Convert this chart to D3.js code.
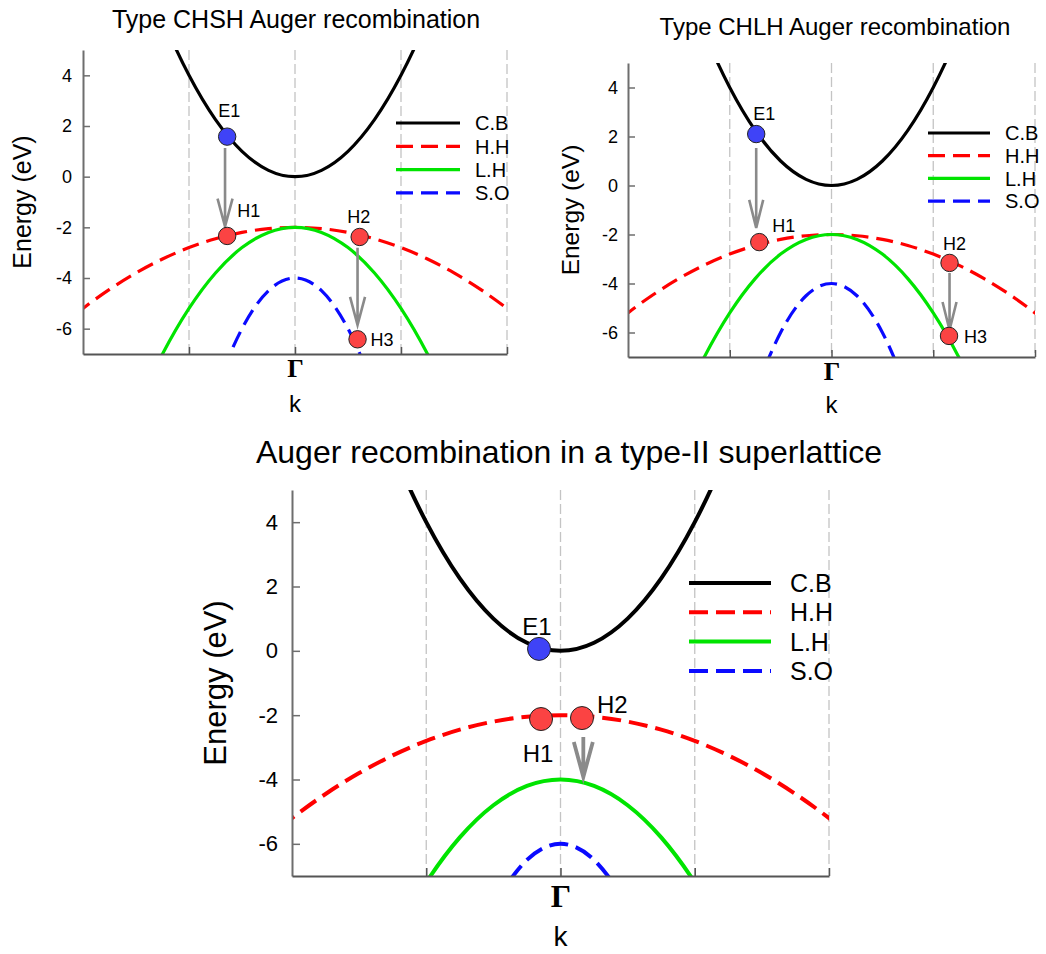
<!DOCTYPE html>
<html>
<head>
<meta charset="utf-8">
<script src="https://cdn.jsdelivr.net/npm/d3@7"></script>
<style>
  body { margin: 0; background: #fff; }
  svg { display: block; font-family: "Liberation Sans", Arial, sans-serif; }
</style>
</head>
<body>
<script>
// wave vector samples (Gamma at 0) and band energies (eV)
var kGrid = [-2.25, -2, -1.75, -1.5, -1.25, -1, -0.75, -0.5, -0.25, 0, 0.25, 0.5, 0.75, 1, 1.25, 1.5, 1.75, 2, 2.25];

// bulk bands (top two panels)
var cbBulk = [20.25, 16, 12.25, 9, 6.25, 4, 2.25, 1, 0.25, 0, 0.25, 1, 2.25, 4, 6.25, 9, 12.25, 16, 20.25];
var hhBulk = [-6.05, -5.2, -4.45, -3.8, -3.25, -2.8, -2.45, -2.2, -2.05, -2, -2.05, -2.2, -2.45, -2.8, -3.25, -3.8, -4.45, -5.2, -6.05];
var lhBulk = [-18.2, -14.8, -11.8, -9.2, -7, -5.2, -3.8, -2.8, -2.2, -2, -2.2, -2.8, -3.8, -5.2, -7, -9.2, -11.8, -14.8, -18.2];
var soBulk = [-44.5, -36, -28.5, -22, -16.5, -12, -8.5, -6, -4.5, -4, -4.5, -6, -8.5, -12, -16.5, -22, -28.5, -36, -44.5];

// type-II superlattice bands (bottom panel)
var cbSL = [20.25, 16, 12.25, 9, 6.25, 4, 2.25, 1, 0.25, 0, 0.25, 1, 2.25, 4, 6.25, 9, 12.25, 16, 20.25];
var hhSL = [-6.05, -5.2, -4.45, -3.8, -3.25, -2.8, -2.45, -2.2, -2.05, -2, -2.05, -2.2, -2.45, -2.8, -3.25, -3.8, -4.45, -5.2, -6.05];
var lhSL = [-20.2, -16.8, -13.8, -11.2, -9, -7.2, -5.8, -4.8, -4.2, -4, -4.2, -4.8, -5.8, -7.2, -9, -11.2, -13.8, -16.8, -20.2];
var soSL = [-46.5, -38, -30.5, -24, -18.5, -14, -10.5, -8, -6.5, -6, -6.5, -8, -10.5, -14, -18.5, -24, -30.5, -38, -46.5];

var bandNames = ["C.B", "H.H", "L.H", "S.O"];
var kDomain = [-2, 2];
var eDomain = [-7, 5];
var kTicks = [-1, 0, 1, 2];
var eTicks = [-6, -4, -2, 0, 2, 4];

// carriers
var chshNames = ["E1", "H1", "H2", "H3"];
var chshK = [-0.64, -0.64, 0.61, 0.59];
var chshE = [1.58, -2.34, -2.38, -6.42];
var chshArrowK = [-0.66, 0.59];
var chshArrowFrom = [1.13, -2.81];
var chshArrowTo = [-1.97, -5.85];

var chlhNames = ["E1", "H1", "H2", "H3"];
var chlhK = [-0.74, -0.71, 1.16, 1.155];
var chlhE = [2.1, -2.31, -3.16, -6.14];
var chlhArrowK = [-0.74, 1.16];
var chlhArrowFrom = [1.53, -3.57];
var chlhArrowTo = [-1.73, -5.9];

var slNames = ["E1", "H1", "H2"];
var slK = [-0.16, -0.145, 0.16];
var slE = [0.06, -2.12, -2.09];
var slArrowK = [0.17];
var slArrowFrom = [-2.68];
var slArrowTo = [-3.92];

var bandColors = ["#000000", "#ff0000", "#00e400", "#0a0aff"];
var bandDashed = [false, true, false, true];

var svg = d3.select("body").append("svg").attr("width", 1046).attr("height", 954);
var defs = svg.append("defs");

var panels = [
  {
    id: "chsh", title: "Type CHSH Auger recombination",
    left: 83, right: 507, top: 50, bottom: 354,
    bands: [cbBulk, hhBulk, lhBulk, soBulk],
    names: chshNames, pk: chshK, pe: chshE,
    ak: chshArrowK, af: chshArrowFrom, at: chshArrowTo,
    labelDx: [2, 10, -1, 13], labelDy: [-20, -19, -14, 7], labelAnchor: ["middle", "start", "middle", "start"],
    titleX: 296, titleY: 28, titleFont: 25,
    ylabX: 31, ylabFont: 25, tickFont: 18, tickPad: 11, tickLen: 7,
    gammaFont: 26, gammaPad: 5, kY: 412, kFont: 24,
    lw: 3.2, dash: "17,8", r: 8.7, labFont: 18,
    legX1: 396, legX2: 460, legTx: 475, legY: 123, legDy: 23.3, legFont: 20,
    arrowW: 2.6, headW: 7.5, headH: 28
  },
  {
    id: "chlh", title: "Type CHLH Auger recombination",
    left: 628, right: 1035, top: 63, bottom: 357,
    bands: [cbBulk, hhBulk, lhBulk, soBulk],
    names: chlhNames, pk: chlhK, pe: chlhE,
    ak: chlhArrowK, af: chlhArrowFrom, at: chlhArrowTo,
    labelDx: [8, 13, 5, 15], labelDy: [-14, -10, -13, 7], labelAnchor: ["middle", "start", "middle", "start"],
    titleX: 835, titleY: 35, titleFont: 24,
    ylabX: 579, ylabFont: 24.5, tickFont: 18, tickPad: 10, tickLen: 7,
    gammaFont: 26, gammaPad: 5, kY: 413, kFont: 24,
    lw: 3.2, dash: "17,8", r: 8.7, labFont: 18,
    legX1: 928, legX2: 990, legTx: 1005, legY: 133, legDy: 22.7, legFont: 20,
    arrowW: 2.6, headW: 7, headH: 28
  },
  {
    id: "sl", title: "Auger recombination in a type-II superlattice",
    left: 292, right: 829, top: 490, bottom: 876,
    bands: [cbSL, hhSL, lhSL, soSL],
    names: slNames, pk: slK, pe: slE,
    ak: slArrowK, af: slArrowFrom, at: slArrowTo,
    labelDx: [-2, -3, 15], labelDy: [-14, 43, -5], labelAnchor: ["middle", "middle", "start"],
    titleX: 569, titleY: 463, titleFont: 32,
    ylabX: 226, ylabFont: 31, tickFont: 22, tickPad: 14, tickLen: 8,
    gammaFont: 32, gammaPad: 8, kY: 946, kFont: 28,
    lw: 4, dash: "19,8", r: 11.5, labFont: 24,
    legX1: 689, legX2: 771, legTx: 790, legY: 583, legDy: 29.3, legFont: 25,
    arrowW: 3.8, headW: 9.5, headH: 35
  }
];

function drawPanel(p) {
  var x = d3.scaleLinear().domain(kDomain).range([p.left, p.right]);
  var y = d3.scaleLinear().domain(eDomain).range([p.bottom, p.top]);
  var g = svg.append("g");

  defs.append("clipPath").attr("id", "clip-" + p.id)
    .append("rect")
    .attr("x", p.left).attr("y", p.top)
    .attr("width", p.right - p.left).attr("height", p.bottom - p.top);

  // dashed vertical grid
  g.selectAll("line.grid")
    .data(kTicks)
    .enter()
    .append("line")
    .attr("class", "grid")
    .attr("x1", function (d) { return x(d); })
    .attr("x2", function (d) { return x(d); })
    .attr("y1", p.top)
    .attr("y2", p.bottom)
    .attr("stroke", "#c4c4c4")
    .attr("stroke-width", 1.3)
    .attr("stroke-dasharray", "10,4");

  // bands
  var line = d3.line()
    .x(function (d, i) { return x(kGrid[i]); })
    .y(function (d) { return y(d); })
    .curve(d3.curveCardinal.tension(0));

  g.append("g")
    .attr("clip-path", "url(#clip-" + p.id + ")")
    .selectAll("path")
    .data(p.bands)
    .enter()
    .append("path")
    .attr("d", function (d) { return line(d); })
    .attr("fill", "none")
    .attr("stroke", function (d, i) { return bandColors[i]; })
    .attr("stroke-width", p.lw)
    .attr("stroke-dasharray", function (d, i) { return bandDashed[i] ? p.dash : null; });

  // axes
  var yAxis = d3.axisLeft(y).tickValues(eTicks)
    .tickSizeInner(-p.tickLen).tickSizeOuter(0).tickPadding(p.tickPad)
    .tickFormat(function (d) { return String(d); });
  var ya = g.append("g").attr("transform", "translate(" + p.left + ",0)").call(yAxis);
  ya.attr("font-family", null).attr("font-size", p.tickFont);
  ya.select(".domain").attr("stroke", "#6e6e6e").attr("stroke-width", 2);
  ya.selectAll(".tick line").attr("stroke", "#6e6e6e").attr("stroke-width", 1.5);
  ya.selectAll(".tick text").attr("fill", "#000");

  var xAxis = d3.axisBottom(x).tickValues(kTicks)
    .tickSizeInner(-p.tickLen).tickSizeOuter(0).tickPadding(p.gammaPad)
    .tickFormat(function (d) { return d === 0 ? "\u0393" : ""; });
  var xa = g.append("g").attr("transform", "translate(0," + p.bottom + ")").call(xAxis);
  xa.attr("font-family", "'Liberation Serif', 'Times New Roman', serif")
    .attr("font-size", p.gammaFont).attr("font-weight", "bold");
  xa.select(".domain").attr("stroke", "#555").attr("stroke-width", 2);
  xa.selectAll(".tick line").attr("stroke", "#555").attr("stroke-width", 1.5);
  xa.selectAll(".tick text").attr("fill", "#000");

  // titles
  g.append("text")
    .attr("x", p.titleX).attr("y", p.titleY)
    .attr("text-anchor", "middle").attr("font-size", p.titleFont)
    .text(p.title);

  g.append("text")
    .attr("transform", "translate(" + p.ylabX + "," + (p.top + p.bottom) / 2 + ") rotate(-90)")
    .attr("text-anchor", "middle").attr("font-size", p.ylabFont)
    .text("Energy (eV)");

  g.append("text")
    .attr("x", x(0)).attr("y", p.kY)
    .attr("text-anchor", "middle").attr("font-size", p.kFont)
    .text("k");

  // legend
  var leg = g.append("g");
  bandNames.forEach(function (name, i) {
    var ly = p.legY + i * p.legDy;
    leg.append("line")
      .attr("x1", p.legX1).attr("x2", p.legX2)
      .attr("y1", ly).attr("y2", ly)
      .attr("stroke", bandColors[i])
      .attr("stroke-width", p.lw)
      .attr("stroke-dasharray", bandDashed[i] ? p.dash : null);
    leg.append("text")
      .attr("x", p.legTx).attr("y", ly)
      .attr("dy", "0.36em")
      .attr("font-size", p.legFont)
      .text(name);
  });

  // arrows
  p.ak.forEach(function (k, i) {
    var ax = x(k), y0 = y(p.af[i]), y1 = y(p.at[i]);
    g.append("path")
      .attr("d", "M" + ax + "," + y0 + "V" + y1 +
        "M" + (ax - p.headW) + "," + (y1 - p.headH) + "L" + ax + "," + y1 + "L" + (ax + p.headW) + "," + (y1 - p.headH))
      .attr("fill", "none")
      .attr("stroke", "#8a8a8a")
      .attr("stroke-width", p.arrowW);
  });

  // carriers
  g.selectAll("circle.carrier")
    .data(p.names)
    .enter()
    .append("circle")
    .attr("class", "carrier")
    .attr("cx", function (d, i) { return x(p.pk[i]); })
    .attr("cy", function (d, i) { return y(p.pe[i]); })
    .attr("r", p.r)
    .attr("fill", function (d) { return d.charAt(0) === "E" ? "#3f43f7" : "#fb4343"; })
    .attr("stroke", "#222")
    .attr("stroke-width", 1);

  g.selectAll("text.carrier")
    .data(p.names)
    .enter()
    .append("text")
    .attr("class", "carrier")
    .attr("x", function (d, i) { return x(p.pk[i]) + p.labelDx[i]; })
    .attr("y", function (d, i) { return y(p.pe[i]) + p.labelDy[i]; })
    .attr("text-anchor", function (d, i) { return p.labelAnchor[i]; })
    .attr("font-size", p.labFont)
    .text(function (d) { return d; });
}

panels.forEach(drawPanel);
</script>
</body>
</html>
